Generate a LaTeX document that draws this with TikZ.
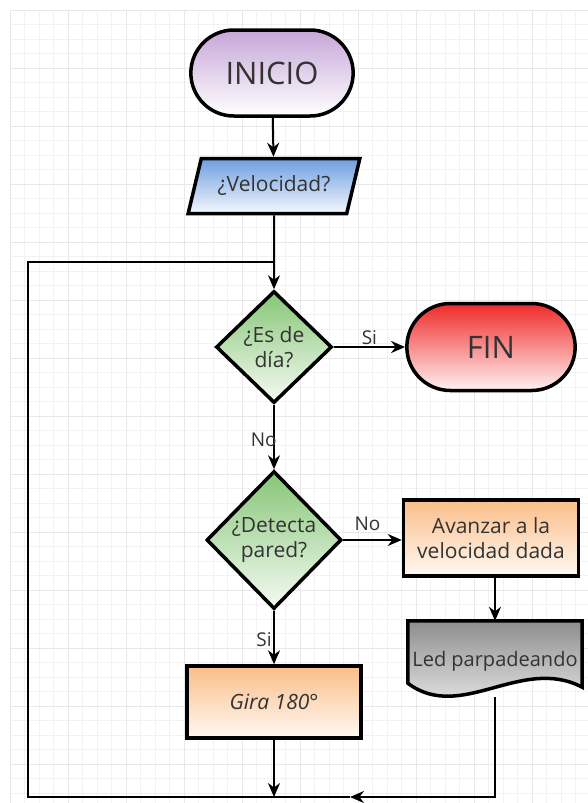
\documentclass[tikz,border=0pt]{standalone}
\usepackage{fontspec}
\setmainfont{Open Sans}
\usepackage{xcolor}
\usetikzlibrary{arrows.meta,shapes,positioning,calc}

\definecolor{inicioTop}{HTML}{C6A6D8}
\definecolor{velTop}{HTML}{6E9EE0}
\definecolor{decTop}{HTML}{86C676}
\definecolor{finTop}{HTML}{F02A2A}
\definecolor{procTop}{HTML}{FBBE88}
\definecolor{ledTop}{HTML}{8E8E8E}
\definecolor{txt}{HTML}{333333}

\tikzset{
  terminal/.style={rounded rectangle, draw=black, line width=3.5pt, font=\fontsize{31}{34}\selectfont, text=txt},
  entrada/.style={trapezium, trapezium left angle=63, trapezium right angle=117, trapezium stretches=true,
    draw=black, line width=3.5pt, font=\fontsize{21}{24}\selectfont, text=txt, inner sep=0pt},
  decision/.style={diamond, draw=black, line width=3.5pt, inner sep=-6pt, align=center,
    top color=decTop, bottom color=decTop!8, font=\fontsize{21}{25}\selectfont, text=txt},
  proceso/.style={rectangle, draw=black, line width=3.5pt, align=center,
    top color=procTop, bottom color=procTop!10, font=\fontsize{21}{25}\selectfont, text=txt},
  flecha/.style={-{Stealth[length=14pt,width=12pt]}, line width=2pt},
  linea/.style={line width=2pt},
  etiqueta/.style={font=\fontsize{19}{22}\selectfont, text=txt}
}

\begin{document}
\begin{tikzpicture}[x=1pt,y=-1pt]
\useasboundingbox (0,0) rectangle (588,803);
\fill[white] (0,0) rectangle (588,803);

% Grid
\foreach \g in {10,24.5,...,588} {
  \draw[black!5, line width=0.5pt] (\g,10) -- (\g,803);
}
\foreach \g in {10,24.5,...,803} {
  \draw[black!5, line width=0.5pt] (10,\g) -- (588,\g);
}
\foreach \g in {10,68,...,588} {
  \draw[black!9, line width=0.7pt] (\g,10) -- (\g,803);
}
\foreach \g in {10,68,...,803} {
  \draw[black!9, line width=0.7pt] (10,\g) -- (588,\g);
}

% Nodes
\node[terminal, top color=inicioTop, bottom color=white, minimum width=169, minimum height=86] (inicio) at (272,73) {INICIO};
\node[entrada, top color=velTop, bottom color=velTop!8, minimum width=172, minimum height=55] (velocidad) at (274,186) {¿Velocidad?};
\node[decision, minimum width=116, minimum height=112] (dia) at (274,347) {¿Es de\\día?};
\node[terminal, top color=finTop, bottom color=finTop!6, minimum width=175, minimum height=87] (fin) at (491,347) {FIN};
\node[decision, minimum width=135, minimum height=138] (pared) at (274,540) {¿Detecta\\pared?};
\node[proceso, minimum width=175, minimum height=76] (avanzar) at (491,538) {Avanzar a la\\velocidad dada};
\node[proceso, minimum width=174, minimum height=72, font=\fontsize{21}{25}\selectfont\itshape] (gira) at (274,702) {Gira 180°};
\node[inner sep=0pt, minimum width=174, minimum height=58] (led) at (495,650) {};
\draw[line width=3.5pt, top color=ledTop, bottom color=ledTop!8] (led.north west) -- (led.north east)
  -- ($(led.south east)+(0,8)$)
  .. controls ($(led.south)+(26,-24)$) and ($(led.south)+(-34,44)$) .. ($(led.south west)+(0,4)$) -- cycle;
\node[font=\fontsize{20}{24}\selectfont, text=txt] at ($(led.center)+(0,11)$) {Led parpadeando};

% Coordinates
\coordinate (ledout) at ($(led.south)+(0,18)$);
\coordinate (abajo) at (274,797);
\coordinate (medio) at (350,797);
\coordinate (izqabajo) at (28,797);
\coordinate (izqarriba) at (28,262);
\coordinate (union) at (274,262);

% Connectors
\draw[flecha] (inicio) -- (velocidad);
\draw[flecha] (velocidad) -- (dia);
\draw[flecha] (dia) -- node[etiqueta, above, yshift=-2pt] {Si} (fin);
\draw[flecha] (dia) -- node[etiqueta, left, xshift=7pt, yshift=-3pt] {No} (pared);
\draw[flecha] (pared) -- node[etiqueta, above, yshift=5pt, xshift=-5pt] {No} (avanzar.west |- pared);
\draw[flecha] (pared) -- node[etiqueta, left, xshift=2pt, yshift=-2pt] {Si} (gira);
\draw[flecha] (avanzar.south -| led) -- (led.north);
\draw[flecha] (gira) -- (abajo);
\draw[flecha] (ledout) |- (medio);
\draw[linea] (medio) -- (izqabajo) -- (izqarriba) -- (union);

\end{tikzpicture}
\end{document}
